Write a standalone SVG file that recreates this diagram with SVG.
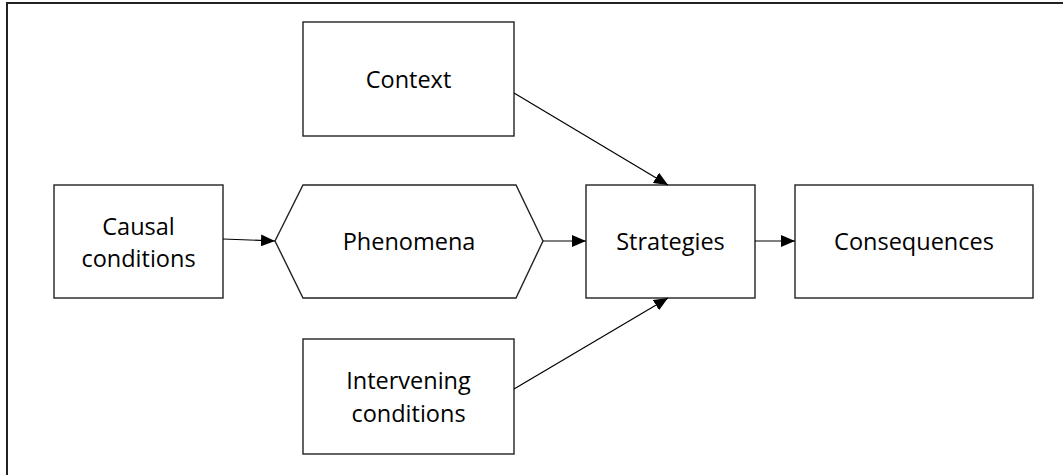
<svg xmlns="http://www.w3.org/2000/svg" width="1063" height="475" viewBox="0 0 1063 475">
  <style>
    .box { fill: #ffffff; stroke: #222222; stroke-width: 1.4; }
    .label { font-family: "Open Sans", "Liberation Sans", sans-serif; font-size: 23.5px; fill: #000000; text-anchor: middle; }
    .edge { stroke: #000000; stroke-width: 1.2; fill: none; marker-end: url(#arrow); }
    .frame { fill: none; stroke: #222222; stroke-width: 2; }
  </style>
  <defs>
    <marker id="arrow" viewBox="0 0 14 12" refX="14" refY="6" markerWidth="14" markerHeight="12" markerUnits="userSpaceOnUse" orient="auto">
      <path d="M0,0 L14,6 L0,12 Z" fill="#000000"/>
    </marker>
  </defs>
  <rect width="1063" height="475" fill="#ffffff"/>
  <!-- surrounding frame: only the left and top edges fall inside the canvas -->
  <path class="frame" d="M7,475 V3 H1063"/>

  <g id="context">
    <rect class="box" x="303" y="22" width="211" height="114"/>
    <text class="label" x="408.5" y="87.5">Context</text>
  </g>
  <g id="causal-conditions">
    <rect class="box" x="54" y="185" width="169" height="113"/>
    <text class="label" x="138.5" y="235">Causal</text>
    <text class="label" x="138.5" y="267">conditions</text>
  </g>
  <g id="phenomena">
    <polygon class="box" points="275,241 303,185 516,185 543,241 516,298 303,298"/>
    <text class="label" x="409" y="250">Phenomena</text>
  </g>
  <g id="strategies">
    <rect class="box" x="586" y="185" width="169" height="113"/>
    <text class="label" x="670.5" y="250">Strategies</text>
  </g>
  <g id="consequences">
    <rect class="box" x="795" y="185" width="238" height="113"/>
    <text class="label" x="914" y="250">Consequences</text>
  </g>
  <g id="intervening-conditions">
    <rect class="box" x="303" y="339" width="211" height="115"/>
    <text class="label" x="408.5" y="389">Intervening</text>
    <text class="label" x="408.5" y="422">conditions</text>
  </g>

  <g id="connectors">
    <line class="edge" x1="223" y1="239" x2="275" y2="241"/>
    <line class="edge" x1="543" y1="241" x2="586" y2="241"/>
    <line class="edge" x1="755" y1="241" x2="795" y2="241"/>
    <line class="edge" x1="514" y1="93" x2="668" y2="185"/>
    <line class="edge" x1="514" y1="389" x2="668" y2="298"/>
  </g>
</svg>
